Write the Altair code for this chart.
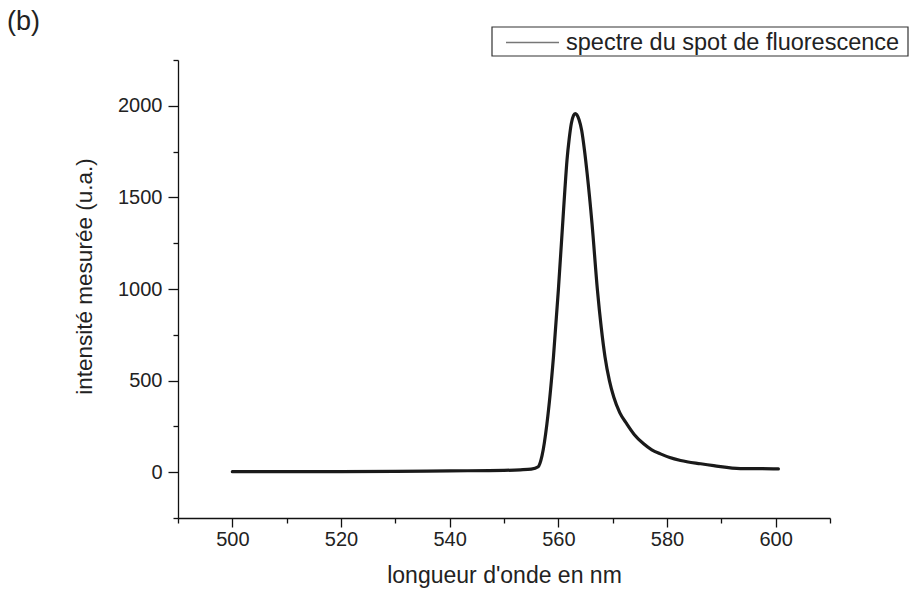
import altair as alt
import pandas as pd

# --- data ---
wavelength = [500, 510, 520, 530, 540, 550, 553, 555, 556.3, 557.0, 557.9, 559.1, 560.0, 560.8,
              561.2, 561.6, 562.0, 562.4, 562.8, 563.1, 563.4, 563.8, 564.3, 564.8, 565.3,
              566.2, 567.2, 567.9, 568.6, 569.4, 570.2, 571.3, 572.6, 574.0, 575.7, 577.2,
              578.8, 580.5, 582.5, 586.2, 588.6, 593.5, 597.0, 600.5]
intensity = [3, 3, 3, 4, 7, 10, 13, 17, 30, 90, 264, 628, 993, 1357,
             1540, 1705, 1820, 1905, 1948, 1958, 1952, 1925, 1865, 1760, 1631,
             1357, 993, 790, 628, 500, 410, 325, 264, 205, 155, 122,
             100, 80, 64, 46, 36, 20, 20, 18]
series_name = ["spectre du spot de fluorescence"]
panel_label = ["(b)"]

x_ticks = list(range(490, 611, 10))
y_ticks = list(range(-250, 2251, 250))

df = pd.DataFrame({"wl": wavelength, "I": intensity})
leg = pd.DataFrame({"t": series_name})
pan = pd.DataFrame({"t": panel_label})

FONT = "Liberation Sans"
TXT = "#222222"

line = alt.Chart(df).mark_line(
    strokeWidth=3.2, interpolate="monotone", strokeJoin="round", strokeCap="round",
    color="#1a1a1a"
).encode(
    x=alt.X("wl:Q",
            scale=alt.Scale(domain=[490, 610], nice=False, zero=False),
            axis=alt.Axis(
                title="longueur d'onde en nm",
                values=x_ticks,
                labelExpr="datum.value % 20 === 0 ? datum.label : ''",
                tickSize={"condition": {"test": "datum.value % 20 === 0", "value": 9}, "value": 5},
                grid=False, domainColor="#111111", tickColor="#111111",
                domainWidth=1.3, tickWidth=1.3,
                labelFont=FONT, labelFontSize=20, labelColor=TXT, labelPadding=2,
                titleFont=FONT, titleFontSize=23, titleFontWeight="normal", titleColor=TXT,
                titlePadding=15, labelFlush=False, labelOverlap=False,
            )),
    y=alt.Y("I:Q",
            scale=alt.Scale(domain=[-250, 2250], nice=False, zero=False),
            axis=alt.Axis(
                title="intensité mesurée (u.a.)",
                values=y_ticks,
                labelExpr="datum.value % 500 === 0 ? datum.label : ''",
                tickSize={"condition": {"test": "datum.value % 500 === 0", "value": 10}, "value": 5},
                grid=False, domainColor="#111111", tickColor="#111111",
                domainWidth=1.3, tickWidth=1.3,
                labelFont=FONT, labelFontSize=20, labelColor=TXT, labelPadding=6,
                titleFont=FONT, titleFontSize=22.5, titleFontWeight="normal", titleColor=TXT,
                titlePadding=21, titleY=216, labelFlush=False, labelOverlap=False, format="d",
            )),
)

# legend box (drawn as decoration above the plot area)
leg_box = alt.Chart(leg).mark_rect(
    fill="white", stroke="#333333", strokeWidth=1.2
).encode(x=alt.value(314), x2=alt.value(730), y=alt.value(-33), y2=alt.value(-4))

leg_line = alt.Chart(leg).mark_rule(
    color="#777777", strokeWidth=1.3
).encode(x=alt.value(328), x2=alt.value(381), y=alt.value(-17.5))

leg_text = alt.Chart(leg).mark_text(
    align="left", baseline="middle", font=FONT, fontSize=23.5, color=TXT
).encode(x=alt.value(388), y=alt.value(-17.5), text="t:N")

panel = alt.Chart(pan).mark_text(
    align="left", baseline="alphabetic", font=FONT, fontSize=27, color=TXT
).encode(x=alt.value(-171), y=alt.value(-30), text="t:N")

chart = alt.layer(line, leg_box, leg_line, leg_text, panel).properties(
    width=652, height=458,
    autosize=alt.AutoSizeParams(type="none"),
    padding={"left": 178, "top": 60, "right": 82, "bottom": 71},
).configure_view(stroke=None)

chart.save("out.html", embed_options={"renderer": "svg", "actions": False})
